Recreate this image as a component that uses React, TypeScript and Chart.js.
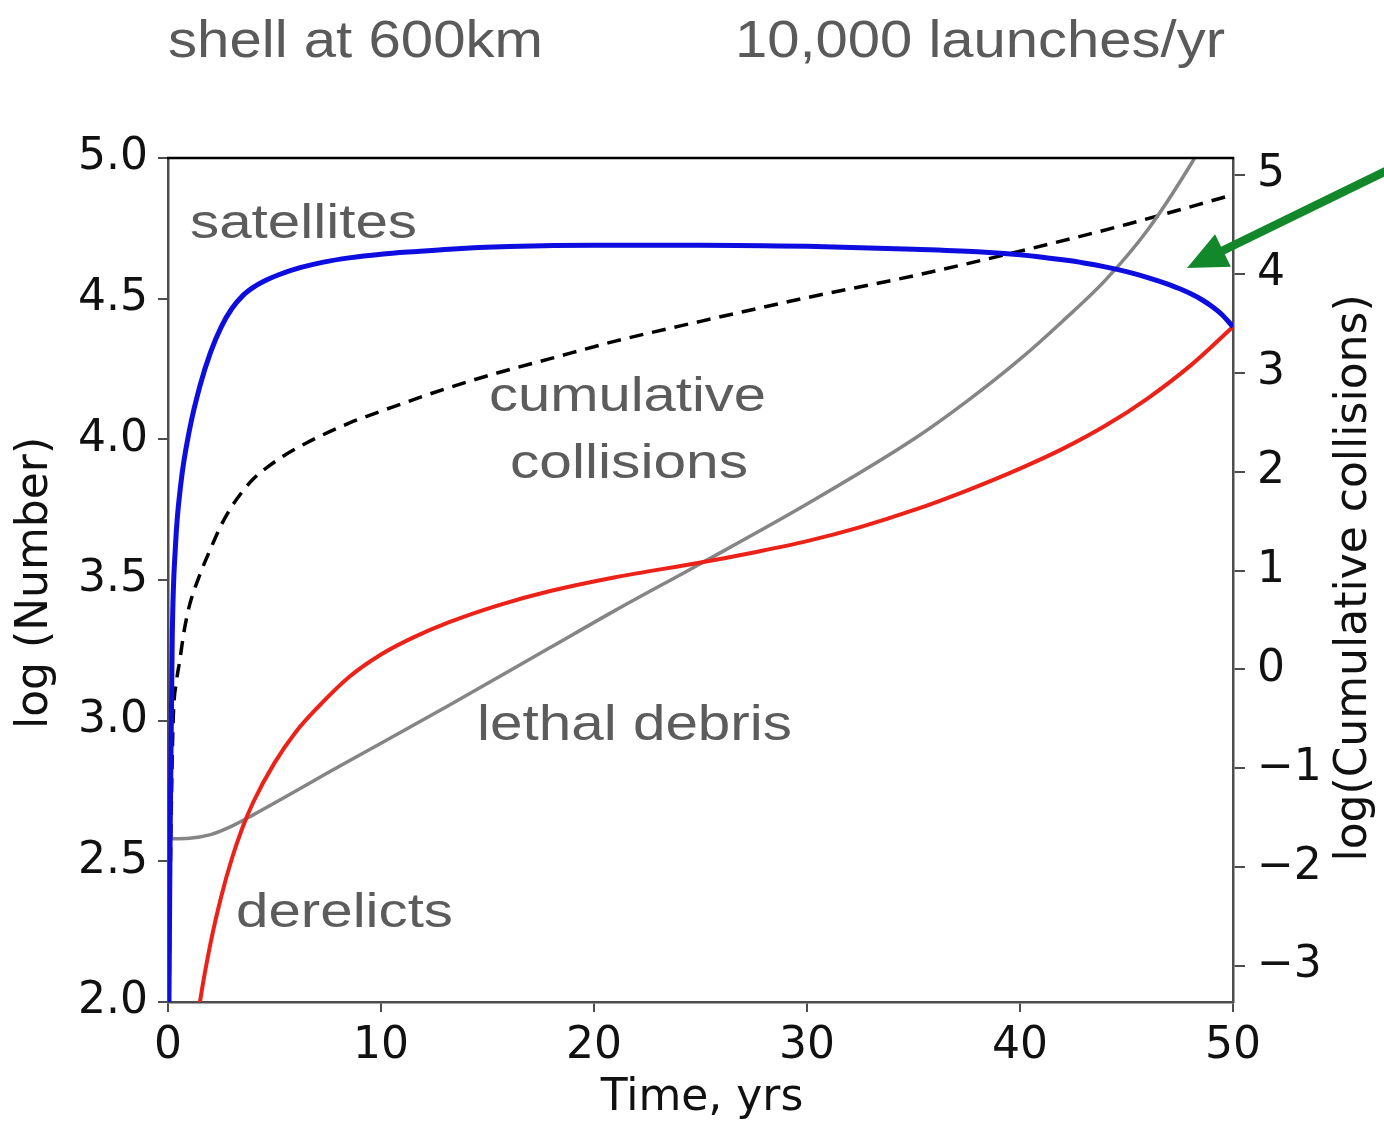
import React, { useEffect, useRef } from "react";
import { Chart, registerables } from "chart.js";

Chart.register(...registerables);

// ---- data (time in years, values in log10) ----
const satelliteTimes = [0, 0.1, 0.2, 0.35, 0.6, 1.0, 1.5, 2.0, 2.5, 3.0, 3.5, 4.0, 4.5, 5.2, 6.2, 7.3, 8.5, 10, 11.7, 13.2, 16, 20, 25, 30, 35, 38, 40, 42, 43, 44, 45, 46, 47, 47.5, 48, 48.5, 49, 49.5, 50];
const satelliteValues = [1.5, 2.6, 3.3, 3.62, 3.84, 4.03, 4.19, 4.31, 4.4, 4.465, 4.51, 4.54, 4.562, 4.585, 4.61, 4.63, 4.645, 4.658, 4.668, 4.676, 4.685, 4.69, 4.69, 4.686, 4.676, 4.667, 4.656, 4.638, 4.627, 4.613, 4.596, 4.575, 4.55, 4.535, 4.518, 4.498, 4.473, 4.442, 4.4];

const collisionTimes = [0, 0.05, 0.1, 0.17, 0.25, 0.4, 0.56, 0.75, 1.0, 1.5, 2.0, 2.5, 3.0, 3.5, 4.0, 4.7, 5.4, 6.5, 8.5, 10.5, 13.2, 15.5, 17.9, 21, 25, 30, 35, 40, 45, 50];
const collisionValues = [-4.5, -3.4, -2.2, -1.2, -0.47, -0.12, 0.1, 0.38, 0.64, 0.96, 1.22, 1.46, 1.65, 1.8, 1.925, 2.05, 2.155, 2.29, 2.49, 2.65, 2.85, 3.0, 3.14, 3.32, 3.52, 3.76, 3.98, 4.23, 4.5, 4.8];

const debrisTimes = [0, 1, 2, 3, 4, 5, 6, 7.5, 10, 13.2, 17.9, 21, 25, 30, 35, 37.5, 40, 42, 44, 46, 48, 50];
const debrisValues = [2.58, 2.582, 2.595, 2.625, 2.665, 2.707, 2.75, 2.815, 2.92, 3.055, 3.258, 3.392, 3.558, 3.77, 4.0, 4.135, 4.285, 4.42, 4.565, 4.745, 4.975, 5.24];

const derelictTimes = [1.0, 1.5, 2.0, 2.5, 3.0, 3.5, 4.0, 5.0, 6.0, 7.0, 8.5, 10, 11.5, 13.2, 15.5, 17.9, 21, 25, 27.5, 30, 32.5, 35, 37.5, 40, 42, 44, 46, 48, 50];
const derelictValues = [1.72, 2.0, 2.21, 2.375, 2.51, 2.62, 2.71, 2.85, 2.96, 3.045, 3.155, 3.235, 3.295, 3.35, 3.41, 3.46, 3.51, 3.562, 3.598, 3.638, 3.688, 3.748, 3.818, 3.896, 3.966, 4.048, 4.146, 4.262, 4.4];

const xTickValues = [0, 10, 20, 30, 40, 50];
const leftTickValues = [2.0, 2.5, 3.0, 3.5, 4.0, 4.5, 5.0];
const rightTickValues = [-3, -2, -1, 0, 1, 2, 3, 4, 5];

const titleLabels = [
  { text: "shell at 600km", x: 168, y: 57, size: 52, w: 375 },
  { text: "10,000 launches/yr", x: 735, y: 57, size: 52, w: 490 },
];
const curveLabels = [
  { text: "satellites", x: 190, y: 238, size: 48, w: 227 },
  { text: "cumulative", x: 489, y: 411, size: 48, w: 277 },
  { text: "collisions", x: 510, y: 478, size: 48, w: 238 },
  { text: "lethal debris", x: 477, y: 740, size: 50, w: 315 },
  { text: "derelicts", x: 236, y: 927, size: 48, w: 217 },
];

const toPoints = (ts: number[], vs: number[]) => ts.map((t, i) => ({ x: t, y: vs[i] }));

const TICK_FONT = { family: "'DejaVu Sans', sans-serif", size: 44 };
const SPINE = "#4d4d4d";

export default function App() {
  const ref = useRef<HTMLCanvasElement | null>(null);

  useEffect(() => {
    if (!ref.current) return;

    const drawStretched = (ctx: CanvasRenderingContext2D, l: any, color: string) => {
      ctx.save();
      ctx.font = `${l.size}px 'Liberation Sans', Arial, sans-serif`;
      ctx.fillStyle = color;
      ctx.textBaseline = "alphabetic";
      ctx.textAlign = "left";
      const m = ctx.measureText(l.text).width;
      ctx.translate(l.x, l.y);
      ctx.scale(l.w / m, 1);
      ctx.fillText(l.text, 0, 0);
      ctx.restore();
    };

    const decor = {
      id: "decor",
      afterDraw(chart: any) {
        const ctx: CanvasRenderingContext2D = chart.ctx;
        const a = chart.chartArea;
        // top spine
        ctx.save();
        ctx.strokeStyle = "#000";
        ctx.lineWidth = 2.5;
        ctx.beginPath();
        ctx.moveTo(a.left - 1, a.top);
        ctx.lineTo(a.right + 1, a.top);
        ctx.stroke();
        ctx.restore();

        titleLabels.forEach((l) => drawStretched(ctx, l, "#5a5a5a"));
        curveLabels.forEach((l) => drawStretched(ctx, l, "#5c5c5c"));

        // axis titles
        ctx.save();
        ctx.fillStyle = "#111";
        ctx.font = "44px 'DejaVu Sans', sans-serif";
        ctx.textAlign = "center";
        ctx.textBaseline = "middle";
        ctx.fillText("Time, yrs", 702, 1099);
        ctx.translate(36, 583);
        ctx.rotate(-Math.PI / 2);
        ctx.fillText("log (Number)", 0, 0);
        ctx.restore();

        ctx.save();
        ctx.fillStyle = "#111";
        ctx.font = "44px 'DejaVu Sans', sans-serif";
        ctx.textAlign = "center";
        ctx.textBaseline = "middle";
        ctx.translate(1355, 578);
        ctx.rotate(-Math.PI / 2);
        ctx.fillText("log(Cumulative collisions)", 0, 0);
        ctx.restore();

        // green arrow
        ctx.save();
        const tipX = 1187, tipY = 268;
        const tailX = 1392, tailY = 168;
        const ang = Math.atan2(tailY - tipY, tailX - tipX);
        const headLen = 40, headHalf = 18;
        const bx = tipX + Math.cos(ang) * headLen;
        const by = tipY + Math.sin(ang) * headLen;
        ctx.strokeStyle = "#13882b";
        ctx.fillStyle = "#13882b";
        ctx.lineWidth = 8.5;
        ctx.beginPath();
        ctx.moveTo(tailX, tailY);
        ctx.lineTo(bx - Math.cos(ang) * 4, by - Math.sin(ang) * 4);
        ctx.stroke();
        ctx.beginPath();
        ctx.moveTo(tipX, tipY);
        ctx.lineTo(bx + Math.sin(ang) * headHalf, by - Math.cos(ang) * headHalf);
        ctx.lineTo(bx - Math.sin(ang) * headHalf, by + Math.cos(ang) * headHalf);
        ctx.closePath();
        ctx.fill();
        ctx.restore();
      },
    };

    const chart = new Chart(ref.current, {
      type: "line",
      data: {
        datasets: [
          {
            label: "satellites",
            data: toPoints(satelliteTimes, satelliteValues),
            borderColor: "#0d0de0",
            borderWidth: 5,
            pointRadius: 0,
            cubicInterpolationMode: "monotone",
            yAxisID: "y",
          },
          {
            label: "derelicts",
            data: toPoints(derelictTimes, derelictValues),
            borderColor: "#ec2218",
            borderWidth: 4,
            pointRadius: 0,
            cubicInterpolationMode: "monotone",
            yAxisID: "y",
          },
          {
            label: "lethal debris",
            data: toPoints(debrisTimes, debrisValues),
            borderColor: "#858585",
            borderWidth: 3.5,
            pointRadius: 0,
            cubicInterpolationMode: "monotone",
            yAxisID: "y",
          },
          {
            label: "cumulative collisions",
            data: toPoints(collisionTimes, collisionValues),
            borderColor: "#000",
            borderWidth: 3.5,
            borderDash: [14, 9],
            pointRadius: 0,
            cubicInterpolationMode: "monotone",
            yAxisID: "y2",
          },
        ],
      } as any,
      options: {
        responsive: false,
        animation: false,
        events: [],
        layout: { padding: { top: 158, left: 0, right: 0, bottom: 0 } },
        plugins: { legend: { display: false }, tooltip: { enabled: false } },
        scales: {
          x: {
            type: "linear",
            min: 0,
            max: 50,
            afterBuildTicks: (s: any) => {
              s.ticks = xTickValues.map((v) => ({ value: v }));
            },
            afterFit: (s: any) => {
              s.height = 124;
            },
            ticks: { font: TICK_FONT, color: "#111", padding: 8, maxRotation: 0, callback: (v: any) => String(v) },
            grid: { drawOnChartArea: false, drawTicks: true, tickLength: 10, color: SPINE, lineWidth: 2 },
            border: { display: true, color: SPINE, width: 2.5 },
          },
          y: {
            type: "linear",
            position: "left",
            min: 2,
            max: 5,
            afterBuildTicks: (s: any) => {
              s.ticks = leftTickValues.map((v) => ({ value: v }));
            },
            afterFit: (s: any) => {
              s.width = 168;
            },
            ticks: { font: TICK_FONT, color: "#111", padding: 10, callback: (v: any) => Number(v).toFixed(1) },
            grid: { drawOnChartArea: false, drawTicks: true, tickLength: 10, color: SPINE, lineWidth: 2 },
            border: { display: true, color: SPINE, width: 2.5 },
          },
          y2: {
            type: "linear",
            position: "right",
            min: -3.364,
            max: 5.172,
            afterBuildTicks: (s: any) => {
              s.ticks = rightTickValues.map((v) => ({ value: v }));
            },
            afterFit: (s: any) => {
              s.width = 151;
            },
            ticks: {
              font: TICK_FONT,
              color: "#111",
              padding: 12,
              callback: (v: any) => (Number(v) < 0 ? "\u2212" + Math.abs(Number(v)) : String(v)),
            },
            grid: { drawOnChartArea: false, drawTicks: true, tickLength: 12, color: SPINE, lineWidth: 2 },
            border: { display: true, color: SPINE, width: 2.5 },
          },
        },
      } as any,
      plugins: [decor],
    });

    return () => chart.destroy();
  }, []);

  return (
    <div style={{ position: "fixed", left: 0, top: 0, width: 1384, height: 1126, background: "#fff" }}>
      <canvas ref={ref} width={1384} height={1126} style={{ display: "block", width: 1384, height: 1126 }} />
    </div>
  );
}
